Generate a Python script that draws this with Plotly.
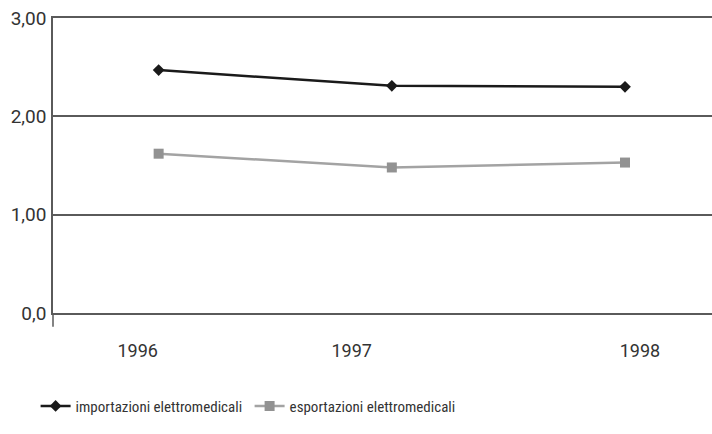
import plotly.graph_objects as go

years = [1996, 1997, 1998]
importazioni = [2.47, 2.31, 2.30]
esportazioni = [1.62, 1.48, 1.53]
series_names = ["importazioni elettromedicali", "esportazioni elettromedicali"]
y_tick_values = [0, 1, 2, 3]
y_tick_labels = ["0,0", "1,00", "2,00", "3,00"]
x_tick_labels = ["1996", "1997", "1998"]
# label offsets (in years) as drawn in the original
x_label_offsets = [-0.09, -0.172, 0.064]

FONT = "Roboto"
LEG_FONT = "Liberation Sans Narrow, Roboto Condensed, Roboto"
TXT = "#333333"
GRID = "#5a5a5a"

fig = go.Figure()
fig.add_trace(go.Scatter(
    x=years, y=importazioni, name=series_names[0], mode="lines+markers",
    line=dict(color="#1a1a1a", width=2.5),
    marker=dict(symbol="diamond", size=9, color="#1a1a1a"),
))
fig.add_trace(go.Scatter(
    x=years, y=esportazioni, name=series_names[1], mode="lines+markers",
    line=dict(color="#a3a3a3", width=2.5),
    marker=dict(symbol="square", size=10, color="#929292"),
))

fig.update_layout(
    width=712, height=434,
    margin=dict(l=53, r=0, t=18, b=121, autoexpand=False),
    paper_bgcolor="white", plot_bgcolor="white",
    font=dict(family=FONT, size=16, color=TXT),
    showlegend=True,
    legend=dict(orientation="h", x=0.05, xref="container", xanchor="left",
                y=0.064, yref="container", yanchor="middle",
                entrywidth=169,
                font=dict(family=LEG_FONT, size=15, color=TXT), bgcolor="rgba(0,0,0,0)"),
    xaxis=dict(
        range=[1995.547, 1998.373], showgrid=False, zeroline=False, automargin=False,
        tickvals=[y + o for y, o in zip(years, x_label_offsets)], ticktext=x_tick_labels,
        ticks="", ticklabelstandoff=21, showline=True, mirror=True,
        linecolor=GRID, linewidth=1.5,
        tickfont=dict(family=FONT, size=18, color=TXT),
    ),
    yaxis=dict(
        range=[0, 3], tickvals=y_tick_values, ticktext=y_tick_labels, automargin=False,
        showgrid=True, gridcolor=GRID, gridwidth=1.5,
        zeroline=True, zerolinecolor="#3a3a3a", zerolinewidth=1.5,
        showline=True, linecolor=GRID, linewidth=1.5,
        ticks="", ticklabelstandoff=1,
        tickfont=dict(family=FONT, size=19, color=TXT),
    ),
    shapes=[dict(type="line", xref="paper", yref="paper", x0=0, x1=0, y0=-0.047, y1=0,
                 line=dict(color=GRID, width=1.5))],
)

fig.write_html("out.html", config={"displayModeBar": False},
               post_script="document.body.style.margin='0';")
